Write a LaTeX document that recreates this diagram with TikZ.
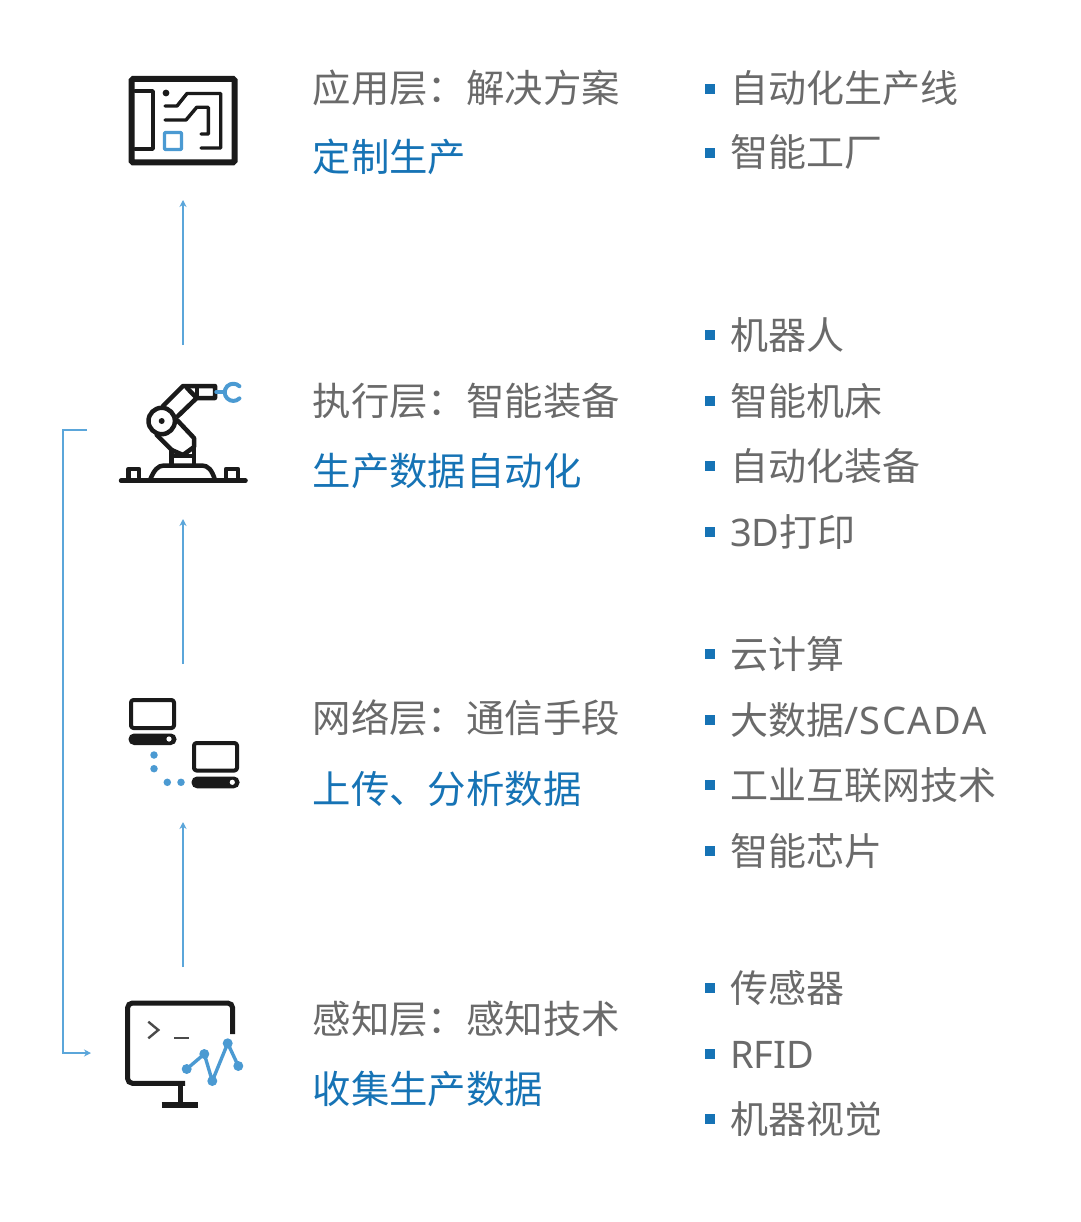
\documentclass[tikz,border=0pt]{standalone}
\usepackage{fontspec}
\setmainfont{Noto Sans CJK SC}
\newfontfamily\latinfont{Noto Sans}
\newfontfamily\latinwide[LetterSpace=4]{Noto Sans}
\newcommand{\fwc}{\char"FF1A\relax}
\usetikzlibrary{arrows.meta}
\definecolor{txtgray}{HTML}{6A6A6A}
\definecolor{txtblue}{HTML}{1673B5}
\definecolor{lineblue}{HTML}{5BA6DA}
\definecolor{iconblue}{HTML}{4B9AD2}
\definecolor{iconblack}{HTML}{1A1A1A}
\tikzset{
  lbl/.style={anchor=base west,inner sep=0pt,text=txtgray,font=\fontsize{38.4}{40}\selectfont},
  bluelbl/.style={lbl,text=txtblue},
  itemlbl/.style={lbl,font=\fontsize{38}{40}\selectfont},
  bulletmark/.style={fill=txtblue,draw=none,minimum size=10pt,inner sep=0pt,rectangle},
  flow/.style={draw=lineblue,line width=2.2pt,-{Stealth[length=7pt,width=7pt]}},
  ico/.style={draw=iconblack,line width=4.5pt,line join=round,line cap=round},
  icb/.style={draw=iconblue,line width=3.4pt,line join=round,line cap=round},
  dotb/.style={circle,fill=iconblue,draw=none,minimum size=10pt,inner sep=0pt},
}
\newcommand{\bitem}[3]{%
  \node[bulletmark] (b#1) at (710,#2) {};
  \node[itemlbl] (t#1) at (730,#2+14) {#3};}
\begin{document}
\begin{tikzpicture}[x=1pt,y=-1pt]
\useasboundingbox (0,0) rectangle (1080,1222);
\fill[white] (0,0) rectangle (1080,1222);
% left labels
\node[lbl] (l1) at (312.5,103) {应用层\fwc 解决方案};
\node[bluelbl] (s1) at (312.5,172) {定制生产};
\node[lbl] (l2) at (312.5,415) {执行层\fwc 智能装备};
\node[bluelbl] (s2) at (312.5,485) {生产数据自动化};
\node[lbl] (l3) at (312.5,732) {网络层\fwc 通信手段};
\node[bluelbl] (s3) at (312.5,803) {上传、分析数据};
\node[lbl] (l4) at (312.5,1033) {感知层\fwc 感知技术};
\node[bluelbl] (s4) at (312.5,1103) {收集生产数据};
% right items
\bitem{a}{89}{自动化生产线}
\bitem{b}{153}{智能工厂}
\bitem{c}{335}{机器人}
\bitem{d}{401}{智能机床}
\bitem{e}{466}{自动化装备}
\bitem{f}{532}{{\latinfont 3D}打印}
\bitem{g}{654}{云计算}
\bitem{h}{720}{大数据{\latinwide /SCADA}}
\bitem{i}{785}{工业互联网技术}
\bitem{j}{851}{智能芯片}
\bitem{k}{988}{传感器}
\bitem{l}{1054}{{\latinfont RFID}}
\bitem{m}{1119}{机器视觉}
% arrows
\coordinate (a1s) at (183,345); \coordinate (a1e) at (183,200);
\coordinate (a2s) at (183,664); \coordinate (a2e) at (183,519);
\coordinate (a3s) at (183,967); \coordinate (a3e) at (183,822);
\coordinate (bs) at (87,430); \coordinate (be) at (91,1053);
\draw[flow] (a1s) -- (a1e);
\draw[flow] (a2s) -- (a2e);
\draw[flow] (a3s) -- (a3e);
\draw[flow] (bs) -- (63,430) -- (63,1053) -- (be);
% icon 1: circuit board
\draw[draw=iconblack,line width=6pt,rounded corners=1.5pt] (131.5,79) rectangle (234.5,162.5);
\draw[ico,line width=3.4pt] (135,91) -- (153,91) -- (153,149) -- (135,149);
\fill[iconblack] (166,93) circle (3.4pt);
\draw[ico,line width=3.4pt] (165,106) -- (177,106) -- (187,93.5) -- (220.7,93.5) -- (220.7,148) -- (201,148);
\draw[ico,line width=3.4pt] (165,120) -- (186,120) -- (196.7,107.3) -- (208.3,107.3) -- (208.3,134) -- (201,134);
\draw[icb,rounded corners=1pt] (164.5,132.5) rectangle (181.5,149.5);
% icon 2: robot arm
\draw[ico,line width=4.5pt] (121,480.7) -- (245.5,480.7);
\draw[ico] (128.5,480) -- (128.5,469) -- (139,469) -- (139,480);
\draw[ico] (226,480) -- (226,469) -- (238,469) -- (238,480);
\draw[ico] (150,480) .. controls (154,470) and (158,465.5) .. (164,465.5) -- (202,465.5) .. controls (208,465.5) and (212,470) .. (215,480);
\draw[ico] (171.7,464) -- (171.7,450);
\draw[ico] (194,464) -- (194,447);
\draw[ico] (173,456) -- (193,456);
\draw[ico] (177,420) -- (194,438) -- (194,447) -- (183,455) -- (171.7,450) -- (156.7,435);
\draw[ico] (163,406) -- (183,386) -- (215,386) -- (215,398) -- (196.7,398) -- (178,416);
\draw[ico] (187,388) -- (196.7,398);
\draw[ico] (197,387) -- (197,397);
\draw[ico] (161.7,421) circle (13.2pt);
\fill[iconblack] (161.7,421) circle (3pt);
\draw[icb] (216,392) -- (224,392);
\draw[icb,line width=4pt] (239.4,398.4) arc[start angle=-45,end angle=-315,radius=8.6pt];
% icon 3: computers
\draw[ico,line width=4pt,rounded corners=2.5pt] (131,700) rectangle (174,728);
\fill[iconblack,rounded corners=5.5pt] (128.5,733.5) rectangle (176.5,745);
\fill[white] (169,739) circle (2.6pt);
\draw[ico,line width=4pt,rounded corners=2.5pt] (194,743) rectangle (237,770.5);
\fill[iconblack,rounded corners=5.5pt] (191.5,776.5) rectangle (239.5,788.3);
\fill[white] (232.3,782.3) circle (2.6pt);
\node[dotb,minimum size=7.5pt] (d1) at (154,755) {};
\node[dotb,minimum size=7.5pt] (d2) at (154,768.7) {};
\node[dotb,minimum size=7.5pt] (d3) at (167.3,782.3) {};
\node[dotb,minimum size=7.5pt] (d4) at (181,782.3) {};
% icon 4: monitor
\draw[draw=iconblack,line width=5pt,rounded corners=5pt] (232.7,1034) -- (232.7,1003) -- (127.5,1003) -- (127.5,1083.3) -- (185,1083.3);
\draw[draw=iconblack,line width=5pt] (180,1083.3) -- (180,1104);
\draw[draw=iconblack,line width=6pt] (161.7,1104.5) -- (198.3,1104.5);
\draw[draw=txtgray!70!black,line width=2.4pt,line join=miter] (148.3,1021.7) -- (158.3,1030) -- (148.3,1038.3);
\draw[draw=txtgray!70!black,line width=2.4pt] (174,1037.7) -- (189,1037.7);
\draw[icb] (186.7,1069) -- (204.3,1054) -- (212.3,1081) -- (227.7,1043.3) -- (238.3,1066);
\node[dotb] (p1) at (186.7,1069) {};
\node[dotb] (p2) at (204.3,1054) {};
\node[dotb] (p3) at (212.3,1081) {};
\node[dotb] (p4) at (227.7,1043.3) {};
\node[dotb] (p5) at (238.3,1066) {};
\end{tikzpicture}
\end{document}
